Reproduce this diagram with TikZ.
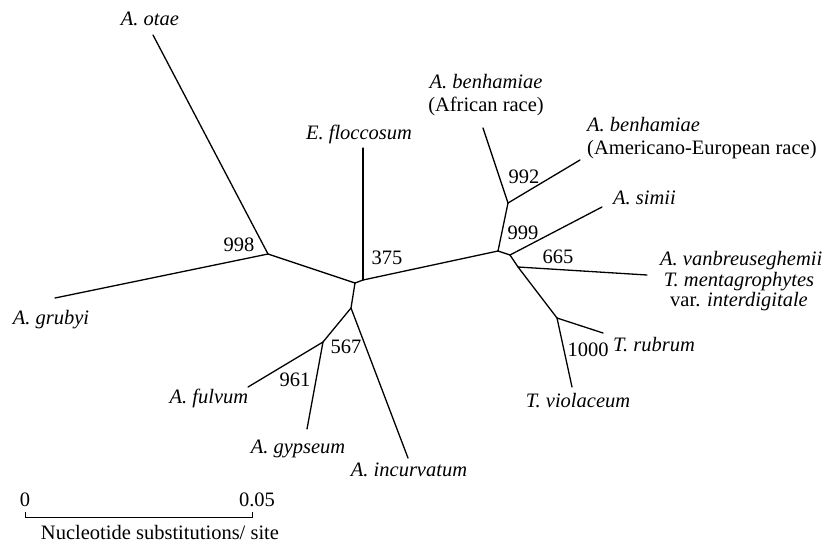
\documentclass[tikz,border=0pt]{standalone}
\usepackage{fontspec}
\setmainfont{Liberation Serif}
\begin{document}
\begin{tikzpicture}[x=1pt,y=-1pt,
  br/.style={line width=1.3pt,line cap=round,line join=round},
  lbl/.style={inner sep=0pt,font=\fontsize{20.5}{23}\selectfont},
  sp/.style={lbl,font=\fontsize{20.5}{23}\selectfont\itshape}]
\useasboundingbox (0,0) rectangle (833,542);
% internal nodes
\coordinate (c1) at (355,283);
\coordinate (cf) at (363,280);
\coordinate (c2) at (351,308);
\coordinate (n998) at (268,254);
\coordinate (n961) at (323,342);
\coordinate (n999) at (498,251);
\coordinate (n992) at (508,203);
\coordinate (n665) at (510,255);
\coordinate (nT) at (518,267);
\coordinate (n1000) at (557,318);
% leaves
\coordinate (lotae) at (153,35);
\coordinate (lgru) at (55,298);
\coordinate (lflo) at (363,148);
\coordinate (lful) at (248,387);
\coordinate (lgyp) at (307,429);
\coordinate (linc) at (408,458);
\coordinate (lafr) at (483,128);
\coordinate (lame) at (580,160);
\coordinate (lsim) at (602,207);
\coordinate (lment) at (647,275);
\coordinate (lrub) at (603,333);
\coordinate (lvio) at (572,387);
% branches
\draw[br] (lotae) -- (n998);
\draw[br] (lgru) -- (n998);
\draw[br] (n998) -- (c1);
\draw[br] (c1) -- (cf);
\draw[br] (lflo) -- (cf);
\draw[br] (cf) -- (n999);
\draw[br] (c1) -- (c2);
\draw[br] (c2) -- (n961);
\draw[br] (n961) -- (lful);
\draw[br] (n961) -- (lgyp);
\draw[br] (c2) -- (linc);
\draw[br] (n999) -- (n992);
\draw[br] (n992) -- (lafr);
\draw[br] (n992) -- (lame);
\draw[br] (n999) -- (n665);
\draw[br] (n665) -- (lsim);
\draw[br] (n665) -- (nT);
\draw[br] (nT) -- (lment);
\draw[br] (nT) -- (n1000);
\draw[br] (n1000) -- (lrub);
\draw[br] (n1000) -- (lvio);
% taxon labels
\node[sp] (totae) at (150,19) {A. otae};
\node[sp] (tgru) at (51,320) {A. grubyi};
\node[sp] (tflo) at (359,134) {E. floccosum};
\node[sp] (tful) at (209,398) {A. fulvum};
\node[sp] (tgyp) at (298,449) {A. gypseum};
\node[sp] (tinc) at (409,470) {A. incurvatum};
\node[lbl,align=center] (tafr) at (486,95) {\textit{A. benhamiae}\\(African race)};
\node[lbl,align=left,anchor=west] (tame) at (587,138) {\textit{A. benhamiae}\\(Americano-European race)};
\node[sp,anchor=west] (tsim) at (613,198) {A. simii};
\node[sp,anchor=west] (tvan) at (660,261) {A. vanbreuseghemii};
\node[lbl,align=center,font=\fontsize{20.5}{20}\selectfont] (tment) at (739,292) {\textit{T. mentagrophytes}\\var. \textit{interdigitale}};
\node[sp,anchor=west] (trub) at (613,345) {T. rubrum};
\node[sp] (tvio) at (578,401) {T. violaceum};
% bootstrap values
\node[lbl] (b998) at (239,245) {998};
\node[lbl] (b375) at (387,258) {375};
\node[lbl] (b961) at (295,380) {961};
\node[lbl] (b567) at (346,347) {567};
\node[lbl] (b992) at (524,177) {992};
\node[lbl] (b999) at (523,233) {999};
\node[lbl] (b665) at (558,257) {665};
\node[lbl] (b1000) at (588,350) {1000};
% scale bar
\coordinate (s0) at (25,517);
\coordinate (s1) at (252,517);
\coordinate (s0t) at (25,512);
\coordinate (s1t) at (252,512);
\draw[line width=1pt] (s0t) -- (s0) -- (s1) -- (s1t);
\node[lbl] (z0) at (25,500) {0};
\node[lbl] (z1) at (257,500) {0.05};
\node[lbl] (zs) at (160,532) {Nucleotide substitutions/ site};
\end{tikzpicture}
\end{document}
